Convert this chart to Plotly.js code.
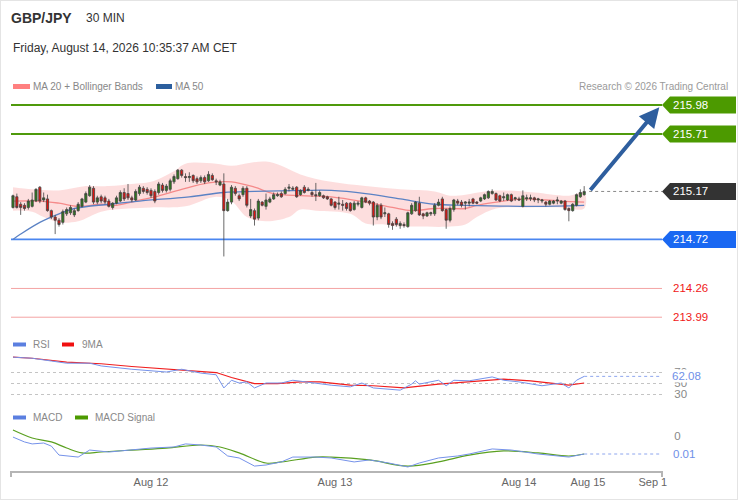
<!DOCTYPE html>
<html><head><meta charset="utf-8">
<script src="https://cdn.plot.ly/plotly-3.0.1.min.js"></script>
<style>
html,body{margin:0;padding:0;background:#fff;}
#chart{position:absolute;left:0;top:0;width:738px;height:500px;}
#frame{position:absolute;left:0;top:0;width:738px;height:500px;box-sizing:border-box;border:1px solid #e4e4e4;pointer-events:none;}
</style></head><body>
<div id="chart"></div><div id="frame"></div>
<script>
// ---------- DATA ----------
const tickText = ['Aug 12', 'Aug 13', 'Aug 14', 'Aug 15', 'Sep 1'];
const tickBars = [36, 84, 132, 150, 166.9];

const candleOpen = [
215.02,215.12,215.05,215.04,215.02,215.03,215.08,215.21,215.09,215.10,
214.99,214.93,214.90,214.88,214.96,214.97,214.95,214.99,215.03,215.07,
215.13,215.20,215.07,215.12,215.11,215.08,215.02,215.06,215.08,215.16,
215.15,215.11,215.09,215.15,215.20,215.19,215.18,215.17,215.16,215.23,
215.18,215.19,215.26,215.29,215.37,215.31,215.30,215.32,215.29,215.27,
215.30,215.27,215.32,215.27,215.23,215.24,214.99,215.07,215.20,215.13,
215.14,215.20,214.94,214.99,214.92,215.07,215.03,215.07,215.10,215.13,
215.15,215.15,215.20,215.19,215.21,215.14,215.21,215.18,215.16,215.14,
215.13,215.13,215.12,215.10,215.07,215.05,215.05,215.06,215.06,215.00,
215.05,215.02,215.11,215.08,215.07,214.93,215.04,214.96,214.96,214.87,
214.91,214.85,214.86,214.84,214.96,214.99,215.06,214.96,214.94,214.96,
214.96,215.04,215.10,215.00,214.90,215.00,215.08,215.07,215.06,215.06,
215.10,215.07,215.08,215.10,215.11,215.15,215.15,215.13,215.11,215.09,
215.14,215.10,215.10,215.03,215.10,215.10,215.11,215.09,215.08,215.07,
215.05,215.06,215.08,215.06,215.08,215.01,214.99,215.04,215.12,215.14];
const candleHigh = [
215.14,215.15,215.07,215.06,215.10,215.16,215.20,215.22,215.16,215.14,
215.00,214.95,214.92,215.00,215.02,215.04,215.01,215.07,215.11,215.17,
215.23,215.22,215.13,215.14,215.13,215.10,215.07,215.13,215.18,215.20,
215.24,215.13,215.19,215.23,215.22,215.21,215.20,215.19,215.26,215.25,
215.24,215.29,215.33,215.38,215.38,215.34,215.35,215.33,215.31,215.32,
215.32,215.36,215.34,215.29,215.28,215.34,215.10,215.23,215.22,215.15,
215.22,215.22,215.10,215.01,215.10,215.08,215.15,215.12,215.16,215.16,
215.17,215.21,215.24,215.22,215.22,215.19,215.23,215.21,215.18,215.25,
215.18,215.14,215.13,215.11,215.08,215.12,215.09,215.07,215.07,215.08,
215.08,215.12,215.12,215.09,215.08,215.06,215.06,215.02,214.97,214.89,
214.93,214.89,214.88,214.98,215.06,215.08,215.12,214.97,214.98,214.98,
215.06,215.10,215.12,215.01,215.03,215.10,215.10,215.09,215.08,215.10,
215.11,215.08,215.12,215.15,215.18,215.19,215.16,215.14,215.16,215.15,
215.15,215.12,215.12,215.18,215.14,215.14,215.12,215.11,215.10,215.08,
215.09,215.09,215.12,215.09,215.09,215.02,215.06,215.15,215.19,215.22];
const candleLow = [
215.01,215.01,214.95,214.99,215.00,215.02,215.07,215.06,215.07,214.98,
214.91,214.77,214.84,214.86,214.94,214.95,214.93,214.98,215.02,215.06,
215.12,215.05,215.05,215.06,215.05,215.02,215.00,215.05,215.07,215.08,
215.09,215.07,215.08,215.13,215.15,215.14,215.11,215.06,215.14,215.16,
215.16,215.17,215.24,215.28,215.30,215.26,215.26,215.25,215.24,215.25,
215.24,215.26,215.27,215.23,215.22,214.56,214.98,215.05,215.13,215.08,
215.12,215.02,214.92,214.85,214.90,215.03,215.00,215.06,215.09,215.12,
215.11,215.14,215.17,215.18,215.11,215.13,215.15,215.17,215.12,215.08,
215.12,215.10,215.09,215.03,215.00,215.00,214.99,214.99,214.98,214.99,
215.03,215.01,215.06,215.04,214.85,214.90,214.91,214.93,214.83,214.81,
214.84,214.82,214.83,214.83,214.95,214.98,214.94,214.91,214.93,214.94,
214.94,215.03,214.98,214.82,214.88,214.98,215.04,215.02,215.00,215.03,
215.05,215.05,215.07,215.09,215.10,215.14,215.08,215.07,215.08,215.08,
215.07,215.08,215.08,215.02,215.08,215.08,215.07,215.06,215.06,215.03,
215.04,215.05,215.05,215.05,214.99,214.89,214.98,215.03,215.11,215.13];
const candleClose = [
215.13,215.02,215.02,215.01,215.08,215.09,215.19,215.08,215.11,214.99,
214.93,214.90,214.86,214.98,215.00,215.02,214.99,215.05,215.10,215.15,
215.21,215.07,215.11,215.08,215.07,215.03,215.06,215.11,215.16,215.10,
215.11,215.09,215.17,215.21,215.17,215.16,215.13,215.08,215.24,215.18,
215.22,215.27,215.31,215.37,215.32,215.30,215.31,215.27,215.26,215.30,
215.26,215.33,215.28,215.26,215.26,214.99,215.07,215.21,215.15,215.10,
215.20,215.04,215.00,214.91,215.08,215.04,215.09,215.10,215.14,215.14,
215.12,215.19,215.21,215.20,215.12,215.18,215.16,215.19,215.14,215.13,
215.16,215.11,215.10,215.04,215.02,215.06,215.04,215.01,214.99,215.06,
215.06,215.11,215.07,215.06,214.93,215.04,214.93,214.97,214.86,214.85,
214.86,214.87,214.85,214.97,215.04,215.07,214.95,214.94,214.97,214.97,
215.04,215.07,214.99,214.90,215.01,215.09,215.06,215.04,215.07,215.07,
215.06,215.06,215.11,215.14,215.17,215.17,215.09,215.08,215.12,215.14,
215.08,215.11,215.09,215.13,215.11,215.11,215.09,215.10,215.09,215.05,
215.08,215.08,215.09,215.08,215.00,214.99,215.05,215.14,215.16,215.17];

const ma20Bars = [0,7,12,17,23,27,32,37,44,51,57,63,68,75,83,92,99,104,110,114,118,121,126,130,134,139,143,149];
const ma20Vals = [215.08,215.08,215.06,215.03,215.05,215.04,215.08,215.12,215.19,215.25,215.26,215.21,215.15,215.13,215.12,215.07,215.02,214.99,215.01,215.01,215.01,215.04,215.07,215.09,215.10,215.09,215.08,215.07];
const ma50Bars = [0,2,7,12,16,25,33,46,55,63,76,83,92,101,110,118,136,149];
const ma50Vals = [214.72,214.77,214.88,214.96,215.01,215.05,215.08,215.12,215.16,215.17,215.18,215.18,215.15,215.10,215.05,215.04,215.03,215.04];
const bandUpperBars = [0,5,12,19,25,31,36,42,45,53,57,62,66,70,75,83,92,101,110,114,118,123,127,136,145,149];
const bandUpperVals = [215.21,215.19,215.18,215.22,215.22,215.24,215.26,215.36,215.43,215.43,215.41,215.44,215.45,215.41,215.33,215.26,215.22,215.19,215.17,215.13,215.14,215.17,215.18,215.16,215.13,215.16];
const bandLowerBars = [0,5,8,12,17,23,30,36,45,53,57,61,66,72,75,79,88,92,97,101,105,114,118,121,126,134,143,149];
const bandLowerVals = [214.99,214.98,214.93,214.88,214.89,214.98,215.01,215.02,215.03,215.12,215.08,214.93,214.89,214.93,215.00,214.99,214.96,214.87,214.86,214.84,214.84,214.84,214.86,214.93,215.01,215.02,215.02,215.01];

const rsiBars = [0,5,10,14,20,23,31,40,44,49,53,55,57,59,61,63,66,70,73,76,79,83,88,91,94,101,104,105,106,111,113,115,119,122,125,128,132,138,143,145,147,149];
const rsiVals = [97,95,90,86,86,81,75,70,75,68,65,41,55,50,52,41,50,50,55,52,50,46,43,50,41,37,48,54,48,55,45,55,54,57,61,55,52,45,50,41,55,62.08];
const rsiMaBars = [0,5,14,23,31,40,49,53,57,63,69,75,80,88,94,102,111,119,128,135,141,145,149];
const rsiMaVals = [97,95,88,85,80,75,71,69,60,49,49,52,52,46,45,41,48,52,57,54,50,46,50];
const rsiLevels = [30, 50, 70];

const macdBars = [0,3,5,8,10,12,17,20,25,31,36,42,45,49,53,56,59,63,66,70,73,79,83,89,93,98,103,106,111,116,119,125,130,137,145,149];
const macdVals = [0.0006,0.0033,0.0044,0.0039,0.0056,0.0106,0.0117,0.0078,0.0089,0.0078,0.0067,0.0061,0.0044,0.0050,0.0061,0.0111,0.0122,0.0167,0.0161,0.0144,0.0117,0.0117,0.0122,0.0144,0.0133,0.0150,0.0172,0.0150,0.0122,0.0111,0.0100,0.0072,0.0078,0.0100,0.0117,0.0100];
const signalBars = [0,5,10,14,18,23,31,40,49,54,59,66,70,79,83,93,103,111,119,128,137,145,149];
const signalVals = [-0.0033,0.0011,0.0033,0.0067,0.0094,0.0089,0.0078,0.0067,0.0050,0.0061,0.0094,0.0150,0.0144,0.0117,0.0117,0.0133,0.0167,0.0144,0.0106,0.0083,0.0094,0.0111,0.0100];

const resistanceLevels = [215.98, 215.71];
const lastPrice = 215.17;
const pivotLevel = 214.72;
const supportLevels = [214.26, 213.99];

// ---------- LAYOUT HELPERS ----------
const W = 738, H = 500, L = 11, R = 76, T = 0, B = 29;
const plotW = W - L - R, plotH = H - T - B;
const px = x => (x - L) / plotW;
const py = y => (H - B - y) / plotH;
const FONT = 'Liberation Sans, Arial, sans-serif';
const xRange = [-0.52, 169.3];
const priceRange = [213.87, 216.075];

const barIndex = candleClose.map((_, i) => i);
const nBars = candleClose.length;

const traces = [
  { type: 'scatter', mode: 'lines', x: bandUpperBars.concat(bandLowerBars.slice().reverse()),
    y: bandUpperVals.concat(bandLowerVals.slice().reverse()), fill: 'toself',
    fillcolor: 'rgba(250,185,185,0.48)', line: { width: 0, shape: 'spline' }, xaxis: 'x', yaxis: 'y' },
  { type: 'scatter', mode: 'lines', x: ma20Bars, y: ma20Vals, line: { color: '#f58a8a', width: 1.3, shape: 'spline' }, xaxis: 'x', yaxis: 'y' },
  { type: 'scatter', mode: 'lines', x: ma50Bars, y: ma50Vals, line: { color: '#5b82c4', width: 1.3, shape: 'spline' }, xaxis: 'x', yaxis: 'y' },
  { type: 'candlestick', x: barIndex, open: candleOpen, high: candleHigh, low: candleLow, close: candleClose,
    increasing: { line: { color: '#444444', width: 0.8 }, fillcolor: '#2d7a1d' },
    decreasing: { line: { color: '#444444', width: 0.8 }, fillcolor: '#e0140f' },
    whiskerwidth: 0, xaxis: 'x', yaxis: 'y4' },
  { type: 'scatter', mode: 'lines', x: rsiMaBars, y: rsiMaVals, line: { color: '#f01e1e', width: 1.2 }, xaxis: 'x', yaxis: 'y2' },
  { type: 'scatter', mode: 'lines', x: rsiBars, y: rsiVals, line: { color: '#7592ea', width: 1 }, xaxis: 'x', yaxis: 'y2' },
  { type: 'scatter', mode: 'lines', x: signalBars, y: signalVals, line: { color: '#5aa020', width: 1.2, shape: 'spline' }, xaxis: 'x', yaxis: 'y3' },
  { type: 'scatter', mode: 'lines', x: macdBars, y: macdVals, line: { color: '#7592ea', width: 1 }, xaxis: 'x', yaxis: 'y3' }
];

const shapes = [];
const annotations = [];

function levelLine(v, color, width, dash) {
  shapes.push({ type: 'line', xref: 'paper', x0: 0, x1: 1, yref: 'y', y0: v, y1: v, layer: 'below',
    line: { color: color, width: width, dash: dash || 'solid' } });
}
function levelTag(v, color) {
  shapes.push({ type: 'path', xref: 'paper', xsizemode: 'pixel', xanchor: 1, yref: 'y', ysizemode: 'pixel', yanchor: v,
    path: 'M0,0 L8,8.5 L74,8.5 L74,-8.5 L8,-8.5 Z', fillcolor: color, line: { width: 0 } });
  annotations.push({ text: v.toFixed(2), xref: 'paper', x: 1, xanchor: 'left', xshift: 9, yref: 'y', y: v,
    showarrow: false, font: { family: FONT, size: 11.5, color: '#ffffff' } });
}
resistanceLevels.forEach(v => { levelLine(v, '#4f9a0c', 2); levelTag(v, '#4c9a00'); });
levelLine(pivotLevel, '#4a86f0', 1.6); levelTag(pivotLevel, '#1a68f2');
supportLevels.forEach(v => {
  levelLine(v, '#f4a3a3', 1);
  annotations.push({ text: v.toFixed(2), xref: 'paper', x: 1, xanchor: 'left', xshift: 9, yref: 'y', y: v,
    showarrow: false, font: { family: FONT, size: 11.5, color: '#f01818' } });
});
shapes.push({ type: 'line', xref: 'x', x0: nBars + 0.3, x1: xRange[1], yref: 'y', y0: lastPrice, y1: lastPrice,
  line: { color: '#888', width: 1, dash: 'dot' } });
levelTag(lastPrice, '#333333');

// RSI / MACD last-value guides
const rsiLast = rsiVals[rsiVals.length - 1];
const macdLast = macdVals[macdVals.length - 1];
shapes.push({ type: 'line', xref: 'x', x0: rsiBars[rsiBars.length - 1], x1: xRange[1], yref: 'y2', y0: rsiLast, y1: rsiLast,
  line: { color: '#8ea6ee', width: 1, dash: 'dot' } });
shapes.push({ type: 'line', xref: 'x', x0: macdBars[macdBars.length - 1], x1: xRange[1], yref: 'y3', y0: macdLast, y1: macdLast,
  line: { color: '#8ea6ee', width: 1, dash: 'dot' } });
annotations.push({ text: rsiLast.toFixed(2), xref: 'paper', x: 1, xanchor: 'left', xshift: 9, yref: 'y2', y: rsiLast,
  showarrow: false, bgcolor: '#ffffff', borderpad: 0, font: { family: FONT, size: 11.5, color: '#6f8fe8' } });
annotations.push({ text: macdLast.toFixed(2), xref: 'paper', x: 1, xanchor: 'left', xshift: 9, yref: 'y3', y: macdLast,
  showarrow: false, font: { family: FONT, size: 11.5, color: '#6f8fe8' } });

// forecast arrow
annotations.push({ text: '', x: 168.6, y: resistanceLevels[0] - 0.02, xref: 'x', yref: 'y',
  ax: nBars + 0.3, ay: candleClose[nBars - 1], axref: 'x', ayref: 'y',
  showarrow: true, arrowhead: 2, arrowsize: 1, arrowwidth: 4, arrowcolor: '#2e5e9e' });

// axis end ticks
shapes.push({ type: 'line', xref: 'paper', yref: 'paper', x0: 0, x1: 0, y0: 0, y1: -6 / plotH, line: { color: '#b5b5b5', width: 2 } });
shapes.push({ type: 'line', xref: 'paper', yref: 'paper', x0: 1, x1: 1, y0: 0, y1: -6 / plotH, line: { color: '#b5b5b5', width: 2 } });

// text helpers
function txt(text, xPix, yPix, size, color, extra) {
  annotations.push(Object.assign({ text: text, xref: 'paper', yref: 'paper', x: px(xPix), y: py(yPix),
    xanchor: 'left', yanchor: 'middle', xshift: -2, showarrow: false,
    font: { family: FONT, size: size, color: color } }, extra || {}));
}
function swatch(x0, x1, yc, h, color) {
  shapes.push({ type: 'rect', xref: 'paper', yref: 'paper', x0: px(x0), x1: px(x1), y0: py(yc + h / 2), y1: py(yc - h / 2),
    fillcolor: color, line: { width: 0 } });
}
txt('<b>GBP/JPY</b>', 11, 18, 14, '#333333');
txt('30 MIN', 86, 18, 12, '#333333');
txt('Friday, August 14, 2026 10:35:37 AM CET', 13, 48, 12, '#333333');
swatch(13, 30, 86.5, 5, '#ff8080'); txt('MA 20 + Bollinger Bands', 33, 86.5, 10, '#888888');
swatch(156, 172, 86.5, 5, '#2c5f9e'); txt('MA 50', 175, 86.5, 10, '#888888');
annotations.push({ text: 'Research © 2026 Trading Central', xref: 'paper', yref: 'paper', x: px(730), y: py(86.5),
  xanchor: 'right', yanchor: 'middle', showarrow: false, font: { family: FONT, size: 10, color: '#9a9a9a' } });
swatch(13, 26, 344.5, 4, '#5b7fe0'); txt('RSI', 33, 344.5, 10, '#888888');
swatch(62, 74, 344.5, 4, '#f01010'); txt('9MA', 82, 344.5, 10, '#888888');
swatch(13, 26, 417.5, 4, '#5b7fe0'); txt('MACD', 33, 417.5, 10, '#888888');
swatch(75, 88, 417.5, 4, '#4c9a00'); txt('MACD Signal', 95, 417.5, 10, '#888888');

const layout = {
  width: W, height: H, margin: { l: L, r: R, t: T, b: B, pad: 0 },
  paper_bgcolor: '#ffffff', plot_bgcolor: 'rgba(0,0,0,0)', showlegend: false, hovermode: false,
  boxgap: 0.18,
  font: { family: FONT, color: '#666' },
  xaxis: { range: xRange, anchor: 'y3', showgrid: false, zeroline: false, showline: true, linecolor: '#b5b5b5', linewidth: 2,
    tickvals: tickBars, ticktext: tickText, ticks: '', tickfont: { size: 11, color: '#666', family: FONT },
    rangeslider: { visible: false } },
  yaxis: { domain: [py(330), py(95)], range: priceRange, showticklabels: false, showgrid: false, zeroline: false, ticks: '' },
  yaxis4: { overlaying: 'y', range: priceRange, visible: false },
  yaxis2: { domain: [py(410.5), py(355.5)], range: [0, 100], side: 'right', anchor: 'x',
    tickvals: rsiLevels, showgrid: true, gridcolor: '#c4c4c4', griddash: 'dot', gridwidth: 1, zeroline: false,
    ticks: 'outside', ticklen: 9, tickcolor: 'rgba(0,0,0,0)', tickfont: { size: 11.5, color: '#888', family: FONT } },
  yaxis3: { domain: [0, py(425)], range: [0.01944, -0.00611], side: 'right', anchor: 'x',
    tickvals: [0], showgrid: false, zeroline: false,
    ticks: 'outside', ticklen: 9, tickcolor: 'rgba(0,0,0,0)', tickfont: { size: 11.5, color: '#888', family: FONT } },
  shapes: shapes, annotations: annotations
};

Plotly.newPlot('chart', traces, layout, { staticPlot: true, displayModeBar: false });
</script></body></html>
